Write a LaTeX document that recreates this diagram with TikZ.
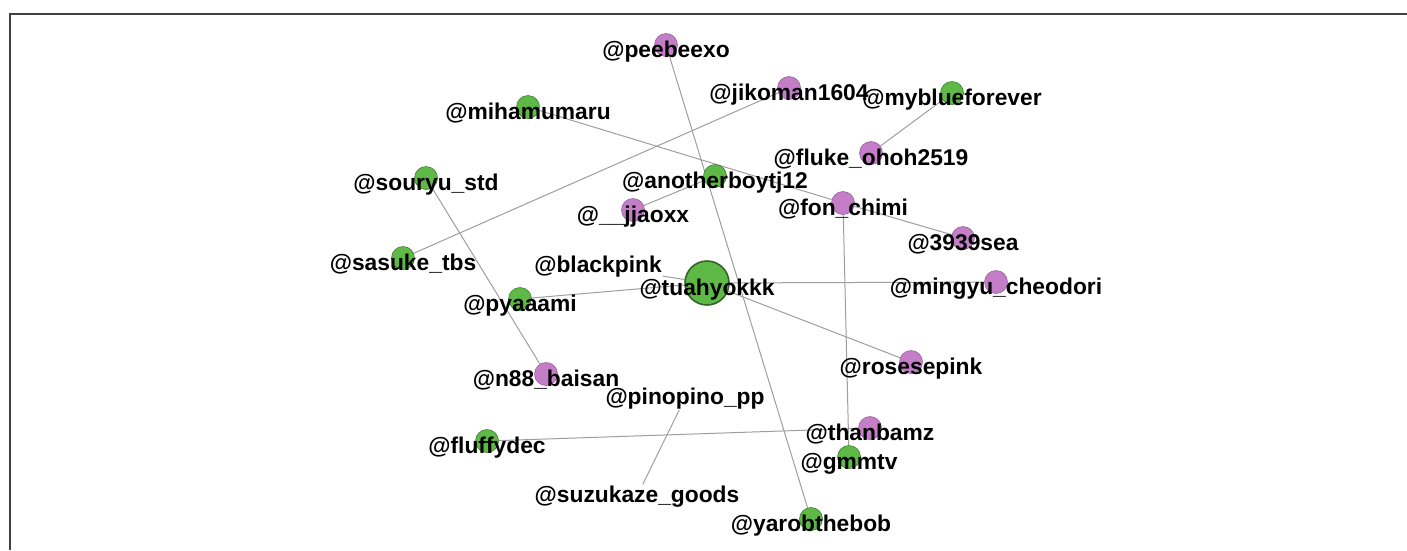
\documentclass[tikz,border=0pt]{standalone}
\usepackage{fontspec}
\setmainfont{Liberation Sans}
\usetikzlibrary{shapes}
\pgfdeclarelayer{background}
\pgfsetlayers{background,main}
\definecolor{grnfill}{RGB}{95,185,70}
\definecolor{grnline}{RGB}{62,125,48}
\definecolor{pnkfill}{RGB}{196,126,200}
\definecolor{pnkline}{RGB}{150,96,156}
\definecolor{edgegray}{RGB}{158,158,158}
\tikzset{
  grn/.style={circle,fill=grnfill,draw=grnline,line width=.6pt,minimum size=23pt,inner sep=0pt},
  pnk/.style={circle,fill=pnkfill,draw=pnkline,line width=.6pt,minimum size=23pt,inner sep=0pt},
  hub/.style={grn,minimum size=44pt,draw=grnline!80!black,line width=1.6pt},
  lbl/.style={anchor=base,yshift=-12pt,inner sep=1pt,text=black,
    font=\bfseries\fontsize{22.8}{27}\selectfont},
  lnk/.style={draw=edgegray,line width=1pt},
  frame/.style={draw=black!75,line width=1.6pt}
}
\begin{document}
\begin{tikzpicture}[x=1pt,y=-1pt]
\useasboundingbox (0,0) rectangle (1407,550);
\draw[frame] (10,550) -- (10,14) -- (1407,14);
%
\node[pnk] (peebeexo) at (666,45) {};
\node[lbl] (peebeexo-t) at (peebeexo) {@peebeexo};
\node[pnk] (jikoman) at (789,88) {};
\node[lbl] (jikoman-t) at (jikoman) {@jikoman1604};
\node[grn] (myblue) at (952,93) {};
\node[lbl] (myblue-t) at (myblue) {@myblueforever};
\node[grn] (mihamumaru) at (528,107) {};
\node[lbl] (mihamumaru-t) at (mihamumaru) {@mihamumaru};
\node[pnk] (fluke) at (871,153) {};
\node[lbl] (fluke-t) at (fluke) {@fluke\_ohoh2519};
\node[grn] (souryu) at (426,178) {};
\node[lbl] (souryu-t) at (souryu) {@souryu\_std};
\node[grn] (anotherboy) at (715,176) {};
\node[lbl] (anotherboy-t) at (anotherboy) {@anotherboytj12};
\node[pnk] (jjaoxx) at (633,210) {};
\node[lbl] (jjaoxx-t) at (jjaoxx) {@\_\_jjaoxx};
\node[pnk] (fonchimi) at (843,203) {};
\node[lbl] (fonchimi-t) at (fonchimi) {@fon\_chimi};
\node[pnk] (sea) at (963,238) {};
\node[lbl] (sea-t) at (sea) {@3939sea};
\node[grn] (sasuke) at (403,258) {};
\node[lbl] (sasuke-t) at (sasuke) {@sasuke\_tbs};
\node[lbl] (blackpink) at (598,260) {@blackpink};
\node[hub] (tuahyokkk) at (707,283) {};
\node[lbl] (tuahyokkk-t) at (tuahyokkk) {@tuahyokkk};
\node[grn] (pyaaami) at (520,299) {};
\node[lbl] (pyaaami-t) at (pyaaami) {@pyaaami};
\node[pnk] (mingyu) at (996,282) {};
\node[lbl] (mingyu-t) at (mingyu) {@mingyu\_cheodori};
\node[pnk] (rosesepink) at (911,362) {};
\node[lbl] (rosesepink-t) at (rosesepink) {@rosesepink};
\node[pnk] (baisan) at (546,374) {};
\node[lbl] (baisan-t) at (baisan) {@n88\_baisan};
\node[lbl] (pinopino) at (685,392) {@pinopino\_pp};
\node[pnk] (thanbamz) at (870,428) {};
\node[lbl] (thanbamz-t) at (thanbamz) {@thanbamz};
\node[grn] (fluffydec) at (487,441) {};
\node[lbl] (fluffydec-t) at (fluffydec) {@fluffydec};
\node[grn] (gmmtv) at (849,457) {};
\node[lbl] (gmmtv-t) at (gmmtv) {@gmmtv};
\node[lbl] (suzukaze) at (637,490) {@suzukaze\_goods};
\node[grn] (yarob) at (811,519) {};
\node[lbl] (yarob-t) at (yarob) {@yarobthebob};
%
\begin{pgfonlayer}{background}
\draw[lnk] (peebeexo) -- (yarob);
\draw[lnk] (jikoman) -- (sasuke);
\draw[lnk] (myblue) -- (fluke);
\draw[lnk] (mihamumaru) -- (fonchimi);
\draw[lnk] (fonchimi) -- (sea);
\draw[lnk] (fonchimi) -- (gmmtv);
\draw[lnk] (souryu) -- (baisan);
\draw[lnk] (anotherboy) -- (jjaoxx);
\draw[lnk] (blackpink) -- (tuahyokkk);
\draw[lnk] (pyaaami) -- (tuahyokkk);
\draw[lnk] (tuahyokkk) -- (mingyu);
\draw[lnk] (tuahyokkk) -- (rosesepink);
\draw[lnk] (fluffydec) -- (thanbamz);
\draw[lnk] (pinopino) -- (suzukaze);
\end{pgfonlayer}
\end{tikzpicture}
\end{document}
